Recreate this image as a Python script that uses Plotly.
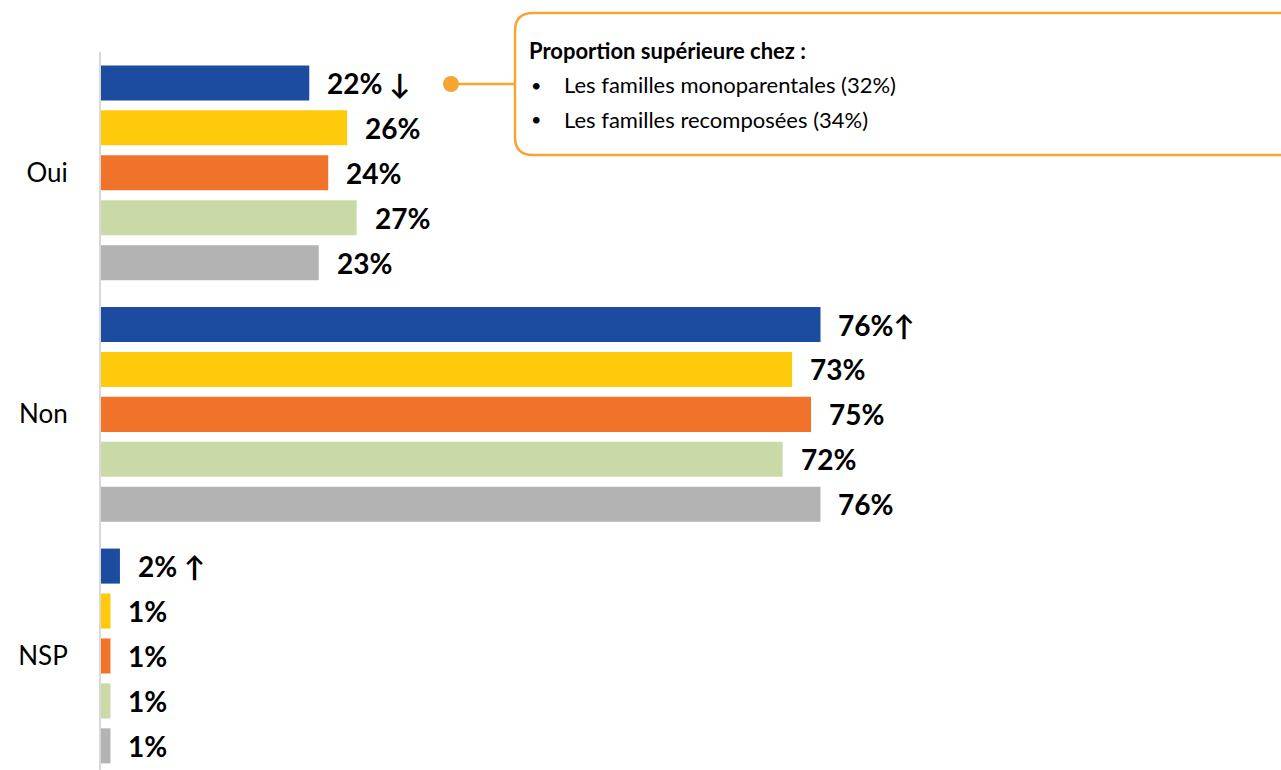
import plotly.graph_objects as go

# Answer categories (top to bottom) and the five population series
categories = ["Oui", "Non", "NSP"]
series_names = ["Série 1", "Série 2", "Série 3", "Série 4", "Série 5"]
values = [
    [22, 76, 2],   # série 1
    [26, 73, 1],   # série 2
    [24, 75, 1],   # série 3
    [27, 72, 1],   # série 4
    [23, 76, 1],   # série 5
]
# Significance arrows appended to some value labels
arrows = [
    [" ↓", "↑", " ↑"],
    ["", "", ""],
    ["", "", ""],
    ["", "", ""],
    ["", "", ""],
]
callout_title = "Proportion supérieure chez :"
callout_items = [
    "Les familles monoparentales (32%)",
    "Les familles recomposées (34%)",
]

colors = ["#1C4CA0", "#FFC90C", "#F07329", "#C9DAA6", "#B3B3B3"]
callout_color = "#F6A432"

W, H = 1281, 770
ML, MT, MR, MB = 101, 52, 0, 0
PW, PH = W - ML - MR, H - MT - MB
PX_PER_UNIT = 9.467          # horizontal pixels per percentage point

BAR_W = 0.145                # bar thickness in category units
PITCH = 0.186                # distance between bars inside a group

fig = go.Figure()
n = len(series_names)
for i, (name, vals) in enumerate(zip(series_names, values)):
    centre = (i - (n - 1) / 2) * PITCH
    fig.add_trace(go.Bar(
        y=categories,
        x=vals,
        orientation="h",
        name=name,
        marker=dict(color=colors[i], line=dict(width=0)),
        width=BAR_W,
        offset=centre - BAR_W / 2,
        showlegend=False,
        hoverinfo="skip",
    ))
    for j, v in enumerate(vals):
        fig.add_annotation(
            x=v, y=j + centre, xref="x", yref="y",
            text=f"<b>{v}%{arrows[i][j]}</b>",
            showarrow=False, xanchor="left", yanchor="middle",
            xshift=16,
            font=dict(family="Lato", size=28, color="#000000"),
        )


def px(x):
    return (x - ML) / PW


def py(y):
    return (H - MB - y) / PH


# Rounded callout box
bx0, bx1, by0, by1, r = 515, 1300, 13, 155, 18
rx, ry = r / PW, r / PH
path = (
    f"M {px(bx0) + rx},{py(by0)} L {px(bx1) - rx},{py(by0)} "
    f"Q {px(bx1)},{py(by0)} {px(bx1)},{py(by0) - ry} "
    f"L {px(bx1)},{py(by1) + ry} "
    f"Q {px(bx1)},{py(by1)} {px(bx1) - rx},{py(by1)} "
    f"L {px(bx0) + rx},{py(by1)} "
    f"Q {px(bx0)},{py(by1)} {px(bx0)},{py(by1) + ry} "
    f"L {px(bx0)},{py(by0) - ry} "
    f"Q {px(bx0)},{py(by0)} {px(bx0) + rx},{py(by0)} Z"
)
fig.add_shape(type="path", path=path, xref="paper", yref="paper",
              line=dict(color=callout_color, width=2.5), fillcolor="rgba(0,0,0,0)")
# Connector line and dot
fig.add_shape(type="line", xref="paper", yref="paper",
              x0=px(451), x1=px(bx0), y0=py(84), y1=py(84),
              line=dict(color=callout_color, width=2.5))
fig.add_shape(type="circle", xref="paper", yref="paper",
              xsizemode="pixel", ysizemode="pixel",
              xanchor=px(451), yanchor=py(84),
              x0=-8, x1=8, y0=-8, y1=8,
              line=dict(color=callout_color, width=0), fillcolor=callout_color)

fig.add_annotation(x=px(527), y=py(50), xref="paper", yref="paper",
                   text=f"<b>{callout_title}</b>", showarrow=False,
                   xanchor="left", yanchor="middle",
                   font=dict(family="Lato", size=22, color="#000000"))
for k, item in enumerate(callout_items):
    yy = 85 + k * 34
    fig.add_annotation(x=px(529), y=py(yy), xref="paper", yref="paper",
                       text="•", showarrow=False, xanchor="left", yanchor="middle",
                       font=dict(family="Lato", size=18, color="#000000"))
    fig.add_annotation(x=px(562), y=py(yy), xref="paper", yref="paper",
                       text=item, showarrow=False, xanchor="left", yanchor="middle",
                       font=dict(family="Lato", size=22, color="#000000"))

fig.update_layout(
    width=W, height=H,
    margin=dict(l=ML, r=MR, t=MT, b=MB),
    paper_bgcolor="white", plot_bgcolor="white",
    barmode="overlay",
    xaxis=dict(range=[0, PW / PX_PER_UNIT], visible=False, fixedrange=True),
    yaxis=dict(
        type="category",
        categoryorder="array", categoryarray=categories,
        range=[2.472, -0.5],
        showline=True, linecolor="#D9D9D9", linewidth=2,
        showgrid=False, zeroline=False, ticks="",
        ticklabelstandoff=26,
        tickfont=dict(family="Lato", size=26, color="#000000"),
        fixedrange=True,
    ),
)

fig.write_html("out.html", config={"displayModeBar": False})
